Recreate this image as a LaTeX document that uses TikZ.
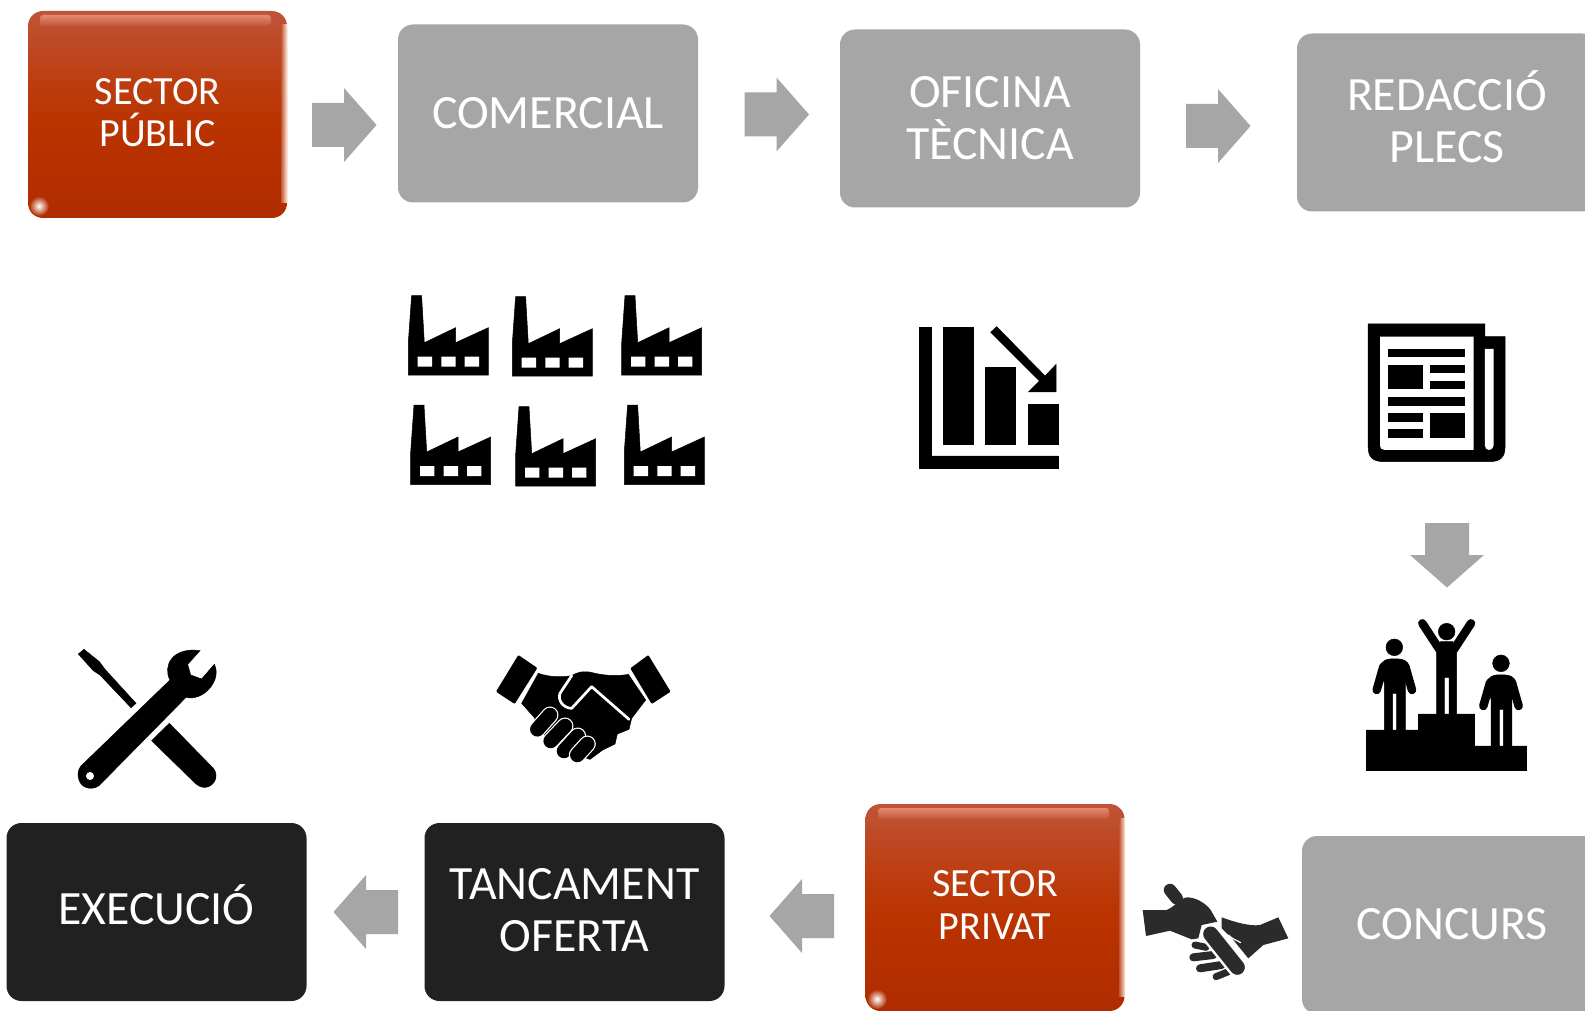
\documentclass[tikz,border=0pt]{standalone}
\usepackage{fontspec}
\setmainfont{Carlito}
\definecolor{greybox}{HTML}{A6A6A6}
\definecolor{darkbox}{HTML}{212121}
\definecolor{handoff}{HTML}{2B2B2B}
\definecolor{glosslight}{HTML}{E58A72}
\definecolor{glossbase}{HTML}{C05438}
\definecolor{redfoot}{HTML}{B02C00}
\newcommand{\liftup}[1]{\rule[-#1]{0pt}{#1}}
\pgfdeclareverticalshading{redgloss}{100bp}{rgb(0bp)=(.69,.17,0); rgb(25bp)=(.69,.17,0); rgb(48bp)=(.73,.2,0); rgb(58bp)=(.74,.24,.06); rgb(75bp)=(.75,.33,.22); rgb(100bp)=(.75,.33,.22)}
\tikzset{
  stepbase/.style={rounded corners=15pt,align=center,text=white,inner sep=0pt,minimum width=300pt,minimum height=178pt},
  greystep/.style={stepbase,fill=greybox,font=\fontsize{47.8}{52}\selectfont},
  darkstep/.style={stepbase,fill=darkbox,font=\fontsize{47.8}{52}\selectfont},
  redstep/.style={stepbase,shading=redgloss,minimum width=259pt,minimum height=207pt,font=\fontsize{40}{42.5}\selectfont},
  glossedge/.style={left color=glossbase,right color=white!82!orange},
  ink/.style={fill=black,draw=black,line width=.5pt},
  blockarrow/.pic={\fill[greybox] (0,-22)--(32,-22)--(32,-37)--(64.5,0)--(32,37)--(32,22)--(0,22)--cycle;},
  factory/.pic={
    \path[ink] (3.3,0)--(13.3,0)--(16,47)--(47.3,32)--(47.3,47)--(80,32)--(80,79.5)--(0,79.5)--(0,47)--cycle;
    \fill[white] (9.3,61) rectangle (23.7,71) (33,61) rectangle (47.3,71) (56.3,61) rectangle (70.7,71);
  }
}
\begin{document}
\begin{tikzpicture}[x=1pt,y=-1pt]
\useasboundingbox (0,0) rectangle (1585,1011);
\fill[white] (0,0) rectangle (1585,1011);
\clip (0,0) rectangle (1585,1011);

% boxes
\node[redstep] (publicbox) at (157.5,114.5) {SECTOR\\PÚBLIC\liftup{4pt}};
\node[greystep] (comercial) at (548,113.5) {COMERCIAL};
\node[greystep] (oficina) at (990,118.5) {OFICINA\\TÈCNICA\liftup{2pt}};
\node[greystep] (redaccio) at (1447,122.5) {REDACCIÓ\\PLECS\liftup{12pt}};
\node[greystep] (concurs) at (1452,925) {CONCURS\liftup{3pt}};
\node[redstep] (privatbox) at (995,907.5) {SECTOR\\PRIVAT\liftup{5pt}};
\node[darkstep] (tancament) at (574.5,912) {TANCAMENT\\OFERTA\liftup{4pt}};
\node[darkstep] (execucio) at (156.5,912) {EXECUCIÓ\liftup{14pt}};

% gloss on the red boxes
\foreach \ox/\oy in {28/11,866/804}{
  \begin{scope}[shift={(\ox,\oy)}]
    \shade[top color=glosslight,bottom color=glossbase,rounded corners=3pt] (12,4) rectangle (243,15);
    \shade[glossedge] (253,14) rectangle (259,192);
    \shade[inner color=white,outer color=redfoot] (11,195) circle (10);
  \end{scope}
}

% arrows
\pic at (312,125) {blockarrow};
\pic at (744.5,114.5) {blockarrow};
\pic at (1186,126) {blockarrow};
\pic[rotate=-90] at (1447,523) {blockarrow};
\pic[xscale=-1] at (834,916) {blockarrow};
\pic[xscale=-1] at (398,912) {blockarrow};

% factories
\pic at (408.3,295.7) {factory};
\pic at (512.3,296.7) {factory};
\pic at (621.7,295.7) {factory};
\pic at (410.7,405) {factory};
\pic at (515.7,406.7) {factory};
\pic at (624.3,405) {factory};

% falling chart
\begin{scope}[shift={(889.5,300)},xscale=.3968,yscale=.3333]
  \path[ink] (75,82)--(105,82)--(105,468)--(425,468)--(425,505)--(75,505)--cycle;
  \path[ink] (135,82) rectangle (211,432);
  \path[ink] (242,203) rectangle (318,432);
  \path[ink] (349,312) rectangle (425,432);
  \path[ink] (255,97)--(270,80)--(392,228)--(420,193)--(420,276)--(350,276)--(378,243)--cycle;
\end{scope}

% newspaper
\begin{scope}[shift={(888,300)},xscale=.3968,yscale=.3333]
  \path[ink] (1210,440) -- (1210,72) -- (1504,72) -- (1504,110) -- (1555,110) -- (1555,440) .. controls (1555,470) and (1545,485) .. (1515,485) -- (1250,485) .. controls (1220,485) and (1210,470) .. (1210,440) -- cycle;
  \fill[white] (1240,435) -- (1240,110) -- (1476,110) -- (1476,450) -- (1252,450) .. controls (1245,450) and (1240,445) .. (1240,435) -- cycle;
  \fill[white] (1504,147) -- (1526,147) -- (1526,437) .. controls (1526,445) and (1520,450) .. (1515,450) .. controls (1510,450) and (1504,445) .. (1504,437) -- cycle;
  \path[ink] (1260,147) rectangle (1453,170);
  \path[ink] (1260,195) rectangle (1347,266);
  \path[ink] (1367,195) rectangle (1453,218);
  \path[ink] (1367,243) rectangle (1453,266);
  \path[ink] (1260,291) rectangle (1453,315);
  \path[ink] (1260,340) rectangle (1347,363);
  \path[ink] (1260,388) rectangle (1347,411);
  \path[ink] (1367,340) rectangle (1453,411);
\end{scope}

% podium
\begin{scope}[shift={(1330,600)},scale=.3333]
  \path[ink] (108,510)--(108,390)--(265,390)--(265,342)--(433,342)--(433,438)--(590,438)--(590,510)--cycle;
  \foreach \dx/\dy in {0/0,320/48}{
    \begin{scope}[shift={(\dx,\dy)}]
      \path[ink] (193,142) circle (25);
      \draw[line width=8.5pt,line cap=round] (160,200)--(140,270) (226,200)--(246,270);
      \path[ink] (150,200) .. controls (155,183) and (170,177) .. (180,177) -- (206,177) .. controls (218,177) and (235,183) .. (238,200) -- (226,250) -- (226,392) -- (200,392) -- (200,280) -- (188,280) -- (188,392) -- (163,392) -- (163,250) -- cycle;
    \end{scope}
  }
  \path[ink] (350,95) circle (25);
  \draw[line width=8.5pt,line cap=round] (328,148)--(277,70) (372,148)--(423,70);
  \path[ink] (332,125)--(368,125)--(380,140)--(380,344)--(357,344)--(357,232)--(343,232)--(343,344)--(320,344)--(320,140)--cycle;
\end{scope}

% tools
\begin{scope}[shift={(60,630)},scale=.3333]
  \path[ink] (55,72)--(72,58)--(118,95)--(135,118)--(228,220)--(213,233)--(120,135)--(100,122)--cycle;
  \path[ink] (328,280)--(460,415) .. controls (480,440) and (460,470) .. (437,472) .. controls (425,473) and (415,468) .. (408,462) -- (275,332) -- cycle;
  \path[ink] (63,408)--(330,150) .. controls (308,110) and (335,50) .. (420,62) -- (383,103) -- (392,135) -- (425,147) -- (463,103) .. controls (487,150) and (430,215) .. (378,202) -- (117,467) .. controls (95,482) and (65,475) .. (57,450) .. controls (52,435) and (53,420) .. (63,408) -- cycle;
  \fill[white] (90,438) circle (12);
\end{scope}

% handshake
\begin{scope}[shift={(480,640)},scale=.3333]
  \fill[black,rounded corners=1pt] (115,45)--(172,84)--(104,192)--(48,155)--cycle;
  \fill[black,rounded corners=1pt] (505,45)--(572,155)--(515,192)--(451,85)--cycle;
  \path[ink] (175,100) .. controls (210,112) and (245,112) .. (275,107) .. controls (300,92) and (320,93) .. (345,100) .. controls (380,108) and (420,108) .. (445,103) -- (497,180) -- (455,235) -- (447,268) -- (412,282) -- (405,312) -- (368,330) -- (330,358) -- (290,345) -- (160,265) -- (165,235) -- (125,190) -- cycle;
  \draw[white,line width=2.7pt,line join=round,line cap=round] (275,107) -- (240,160) .. controls (232,180) and (250,205) .. (275,205) -- (335,140) -- (447,238);
  \foreach \a/\b/\c/\d in {172/268/210/225,212/303/255/258,252/333/293/288,292/345/322/312}{
    \draw[white,line width=17pt,line cap=round] (\a,\b)--(\c,\d);
    \draw[line width=14.5pt,line cap=round] (\a,\b)--(\c,\d);
  }
\end{scope}

% hand-over
\begin{scope}[shift={(1120,860)},scale=.3333]
  \draw[handoff,line width=12.5pt,line cap=round] (150,90)--(170,115);
  \fill[handoff] (68,150)--(140,150) .. controls (165,140) and (185,110) .. (205,112) .. controls (240,115) and (265,140) .. (272,150) -- (292,185) -- (245,195) -- (235,235) -- (215,238) -- (150,212) -- (78,228) -- cycle;
  \fill[handoff] (305,172) .. controls (340,185) and (390,200) .. (420,195) -- (475,172) -- (505,235) -- (430,255) -- (385,295) -- (340,240) -- (305,205) -- cycle;
  \draw[white,line width=1.2pt,line cap=round] (325,225) .. controls (340,240) and (350,240) .. (362,248);
  \draw[handoff,line width=7pt,line cap=round] (225,255)--(258,262);
  \draw[handoff,line width=8pt,line cap=round] (220,292)--(280,285);
  \draw[handoff,line width=8pt,line cap=round] (240,325)--(305,315);
  \draw[handoff,line width=7pt,line cap=round] (288,350)--(325,335);
  \draw[white,line width=20pt,line cap=round] (272,222)--(352,322);
  \draw[handoff,line width=15pt,line cap=round] (272,222)--(352,322);
\end{scope}
\end{tikzpicture}
\end{document}
